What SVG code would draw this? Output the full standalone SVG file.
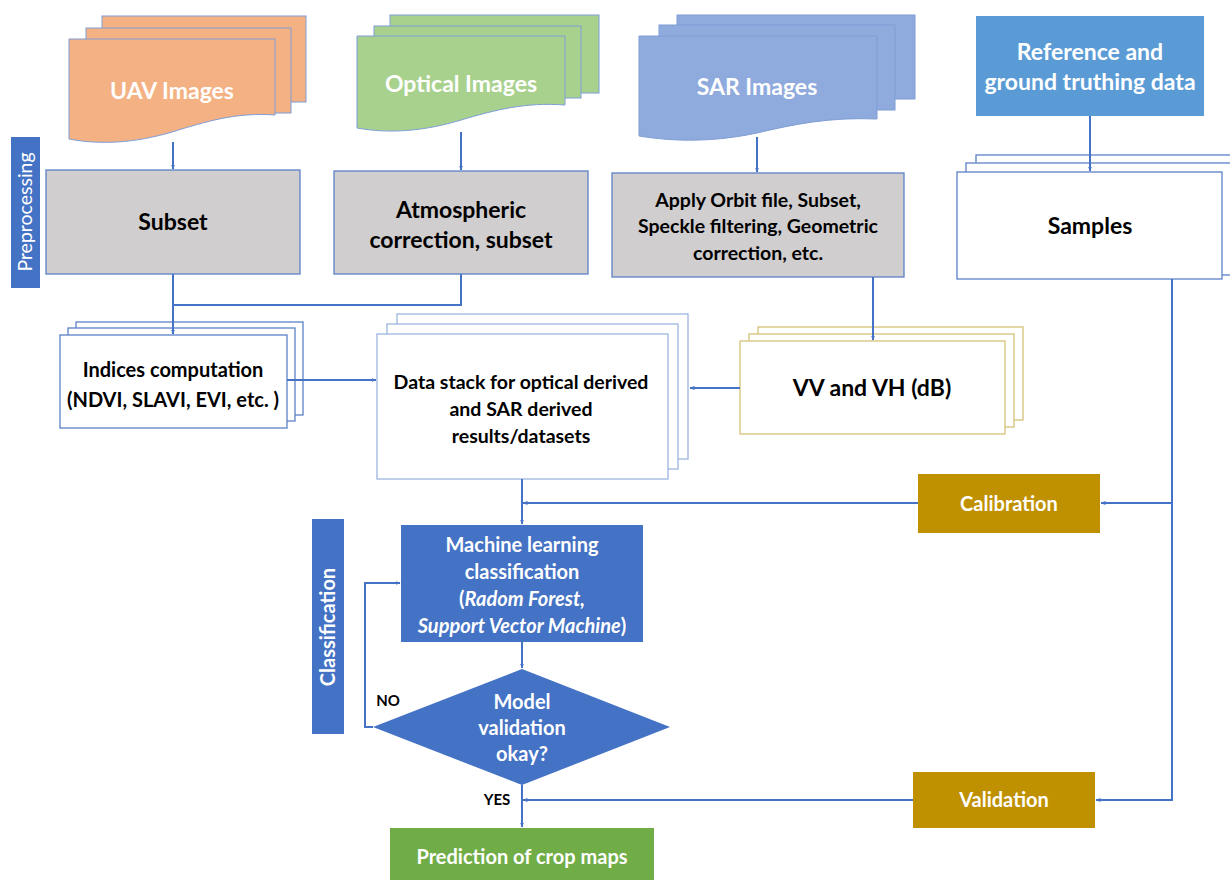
<svg xmlns="http://www.w3.org/2000/svg" width="1230" height="880" viewBox="0 0 1230 880">
<defs>
<marker id="ah" viewBox="0 0 10 10" refX="9" refY="5" markerWidth="5" markerHeight="5" orient="auto-start-reverse" markerUnits="userSpaceOnUse"><path d="M0,1 L10,5 L0,9 Z" fill="#4472c4"/></marker>
<style>
text{font-family:Lato,"Liberation Sans",sans-serif;font-weight:bold;text-anchor:middle;}
.w{fill:#ffffff}
.k{fill:#000000}
.doc{stroke:#7f9ed6;stroke-width:1}
.uav{fill:#f4b183}
.opt{fill:#a9d18e}
.sar{fill:#8faadc}
.gray{fill:#d0cece;stroke:#5b82c8;stroke-width:1.3}
.wb{fill:#ffffff;stroke:#5b82c8;stroke-width:1.3}
.wl{fill:#ffffff;stroke:#9db5e0;stroke-width:1.3}
.wy{fill:#ffffff;stroke:#d4c27a;stroke-width:1.3}
.blue{fill:#4472c4}
.gold{fill:#bf9000}
.c{fill:none;stroke:#4472c4;stroke-width:2}
</style>
</defs>

<g id="label-preprocessing">
<rect x="11" y="137" width="29" height="151" class="blue"/>
<text class="w" transform="translate(32,212) rotate(-90)" font-size="19.5" style="font-weight:normal">Preprocessing</text>
</g>

<g id="uav-images">
<rect class="uav doc" x="102" y="16" width="204" height="86"/>
<rect class="uav doc" x="86" y="28" width="205" height="85"/>
<path class="uav doc" d="M69,39 H275 V115 C235,112 205,122 172,132 C135,143 100,145 69,139 Z"/>
<text class="w" x="172" y="99" font-size="23">UAV Images</text>
</g>

<g id="optical-images">
<rect class="opt doc" x="390" y="15" width="209" height="78"/>
<rect class="opt doc" x="374" y="26" width="207" height="72"/>
<path class="opt doc" d="M357,36 H565 V105 C525,102 495,110 461,120 C425,131 390,134 357,128 Z"/>
<text class="w" x="461" y="92" font-size="23">Optical Images</text>
</g>

<g id="sar-images">
<rect class="sar doc" x="677" y="15" width="238" height="84"/>
<rect class="sar doc" x="659" y="25" width="236" height="85"/>
<path class="sar doc" d="M639,36 H877 V119 C830,117 795,124 757,133 C715,142 675,142 639,136 Z"/>
<text class="w" x="757" y="95" font-size="23">SAR Images</text>
</g>

<g id="reference-data">
<rect x="976" y="16" width="228" height="100" fill="#5b9bd5"/>
<text class="w" x="1090" y="60" font-size="23">Reference and</text>
<text class="w" x="1090" y="90" font-size="23">ground truthing data</text>
</g>

<g id="subset">
<rect class="gray" x="46" y="170" width="254" height="104"/>
<text class="k" x="173" y="230" font-size="23">Subset</text>
</g>

<g id="atmospheric-correction">
<rect class="gray" x="334" y="171" width="254" height="103"/>
<text class="k" x="461" y="218" font-size="23">Atmospheric</text>
<text class="k" x="461" y="248" font-size="23">correction, subset</text>
</g>

<g id="sar-processing">
<rect class="gray" x="612" y="173" width="292" height="104"/>
<text class="k" x="758" y="207" font-size="19.5">Apply Orbit file, Subset,</text>
<text class="k" x="758" y="233" font-size="19.5">Speckle filtering, Geometric</text>
<text class="k" x="758" y="260" font-size="19.5">correction, etc.</text>
</g>

<g id="samples">
<rect class="wb" x="976" y="155" width="270" height="117"/>
<rect class="wb" x="966" y="163" width="270" height="112"/>
<rect class="wb" x="957" y="172" width="265" height="107"/>
<text class="k" x="1090" y="234" font-size="23">Samples</text>
</g>

<g id="indices">
<rect class="wb" x="76" y="322" width="227" height="93"/>
<rect class="wb" x="68" y="328" width="227" height="93"/>
<rect class="wb" x="60" y="335" width="227" height="93"/>
<text class="k" x="173" y="377" font-size="20">Indices computation</text>
<text class="k" x="173" y="407" font-size="20">(NDVI, SLAVI, EVI, etc. )</text>
</g>

<g id="data-stack">
<rect class="wl" x="397" y="314" width="291" height="145"/>
<rect class="wl" x="387" y="324" width="291" height="145"/>
<rect class="wl" x="377" y="334" width="291" height="145"/>
<text class="k" x="521" y="389" font-size="19.5">Data stack for optical derived</text>
<text class="k" x="521" y="416" font-size="19.5">and SAR derived</text>
<text class="k" x="521" y="443" font-size="19.5">results/datasets</text>
</g>

<g id="vv-vh">
<rect class="wy" x="758" y="327" width="265" height="93"/>
<rect class="wy" x="749" y="334" width="265" height="93"/>
<rect class="wy" x="740" y="341" width="265" height="93"/>
<text class="k" x="872" y="396" font-size="23">VV and VH (dB)</text>
</g>

<g id="calibration">
<rect class="gold" x="918" y="474" width="182" height="59"/>
<text class="w" x="1009" y="511" font-size="20">Calibration</text>
</g>

<g id="validation">
<rect class="gold" x="913" y="772" width="182" height="56"/>
<text class="w" x="1004" y="807" font-size="20">Validation</text>
</g>

<g id="label-classification">
<rect x="312" y="519" width="32" height="215" class="blue"/>
<text class="w" transform="translate(335,627) rotate(-90)" font-size="20">Classification</text>
</g>

<g id="ml-classification">
<rect class="blue" x="401" y="525" width="242" height="117"/>
<text class="w" x="522" y="552" font-size="20">Machine learning</text>
<text class="w" x="522" y="579" font-size="20">classification</text>
<text class="w" x="522" y="606" font-size="20">(<tspan font-style="italic">Radom Forest,</tspan></text>
<text class="w" x="522" y="633" font-size="20"><tspan font-style="italic">Support Vector Machine</tspan>)</text>
</g>

<g id="model-validation">
<path class="blue" d="M522,669 L670,727 L522,785 L373,727 Z"/>
<text class="w" x="522" y="709" font-size="20">Model</text>
<text class="w" x="522" y="735" font-size="20">validation</text>
<text class="w" x="522" y="761" font-size="20">okay?</text>
</g>

<g id="prediction">
<rect x="390" y="828" width="264" height="60" fill="#70ad47"/>
<text class="w" x="522" y="864" font-size="20">Prediction of crop maps</text>
</g>

<g id="connectors">
<path class="c" d="M173,142 V169" marker-end="url(#ah)"/>
<path class="c" d="M461,132 V170" marker-end="url(#ah)"/>
<path class="c" d="M757,137 V172" marker-end="url(#ah)"/>
<path class="c" d="M1090,116 V171" marker-end="url(#ah)"/>
<path class="c" d="M173,274 V334" marker-end="url(#ah)"/>
<path class="c" d="M461,274 V305 H173"/>
<path class="c" d="M873,277 V340" marker-end="url(#ah)"/>
<path class="c" d="M287,380 H376" marker-end="url(#ah)"/>
<path class="c" d="M740,388 H690" marker-end="url(#ah)"/>
<path class="c" d="M522,479 V524" marker-end="url(#ah)"/>
<path class="c" d="M918,503 H523" marker-end="url(#ah)"/>
<path class="c" d="M1172,279 V800 H1096" marker-end="url(#ah)"/>
<path class="c" d="M1172,503 H1101" marker-end="url(#ah)"/>
<path class="c" d="M522,642 V668" marker-end="url(#ah)"/>
<path class="c" d="M373,727 H365 V583 H400" marker-end="url(#ah)"/>
<path class="c" d="M522,785 V827" marker-end="url(#ah)"/>
<path class="c" d="M913,800 H523" marker-end="url(#ah)"/>
</g>
<g id="edge-labels">
<text class="k" x="388" y="706" font-size="15">NO</text>
<text class="k" x="497" y="805" font-size="15">YES</text>
</g>
</svg>
